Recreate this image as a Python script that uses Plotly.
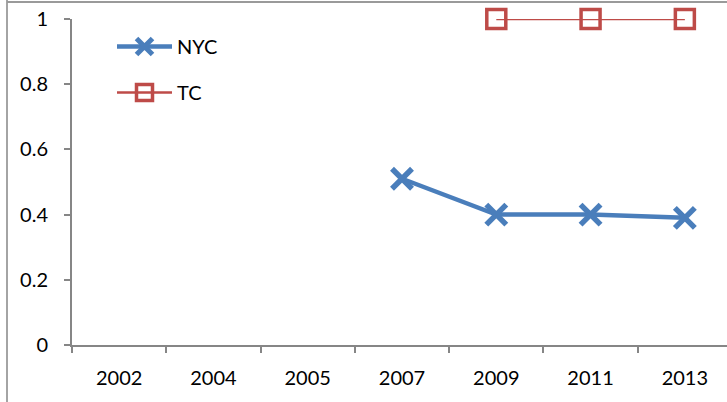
import plotly.graph_objects as go

years = ["2002", "2004", "2005", "2007", "2009", "2011", "2013"]
nyc_years = ["2007", "2009", "2011", "2013"]
nyc_values = [0.51, 0.40, 0.40, 0.39]
tc_years = ["2009", "2011", "2013"]
tc_values = [1, 1, 1]
y_ticks = [0, 0.2, 0.4, 0.6, 0.8, 1]
y_tick_labels = ["0", "0.2", "0.4", "0.6", "0.8", "1"]

W, H = 727, 402
L, R, T, B = 72, 0, 19, 57
FONT = "Lato"

fig = go.Figure()
fig.add_trace(go.Scatter(
    x=nyc_years, y=nyc_values, name="NYC", mode="lines+markers",
    line=dict(color="#4a7ebb", width=4.5),
    marker=dict(symbol="x-thin", size=20, line=dict(color="#4a7ebb", width=5.5)),
    cliponaxis=False, legendgroup="a",
))
fig.add_trace(go.Scatter(
    x=tc_years, y=tc_values, name="TC", mode="lines+markers",
    line=dict(color="#be4b48", width=2.5),
    marker=dict(symbol="square-open", size=19, color="#be4b48",
                line=dict(color="#be4b48", width=3.5)),
    cliponaxis=False, legendgroup="b",
))

pw = W - L - R
ph = H - T - B
step = (732 - 72) / 7.0
xmax = -0.5 + pw / step

fig.update_layout(
    width=W, height=H,
    margin=dict(l=L, r=R, t=T, b=B, pad=0),
    paper_bgcolor="white", plot_bgcolor="white",
    font=dict(family=FONT, size=20, color="black"),
    showlegend=True,
    legend=dict(x=(112 - L) / pw, y=1 - (27 - T) / ph, xanchor="left", yanchor="top",
                bgcolor="rgba(0,0,0,0)", tracegroupgap=17, itemwidth=55,
                font=dict(family=FONT, size=20)),
    xaxis=dict(type="category", categoryorder="array", categoryarray=years,
               range=[-0.5, xmax], showgrid=False, zeroline=False,
               showline=True, linecolor="#868686", linewidth=2,
               ticks="outside", tickson="boundaries", ticklen=6,
               tickcolor="#868686", tickwidth=1.5, ticklabelstandoff=14,
               tickfont=dict(family=FONT, size=20)),
    yaxis=dict(range=[0, 1], tickvals=y_ticks, ticktext=y_tick_labels,
               showgrid=False, zeroline=False, showline=True,
               linecolor="#868686", linewidth=2, ticks="outside", ticklen=6,
               tickcolor="#868686", tickwidth=1.5, ticklabelstandoff=12,
               tickfont=dict(family=FONT, size=20)),
    shapes=[
        dict(type="line", xref="paper", yref="paper",
             x0=(7 - L) / pw, x1=(7 - L) / pw, y0=(H - B - 0) / ph, y1=(H - B - H) / ph,
             line=dict(color="#868686", width=1.5)),
        dict(type="line", xref="paper", yref="paper",
             x0=(7 - L) / pw, x1=(W + 5 - L) / pw, y0=(H - B - 2) / ph, y1=(H - B - 2) / ph,
             line=dict(color="#9a9a9a", width=2)),
    ],
)

fig.write_html(
    "out.html",
    config={"displayModeBar": False},
    post_script="document.body.style.margin='0px';document.body.style.overflow='hidden';",
)
